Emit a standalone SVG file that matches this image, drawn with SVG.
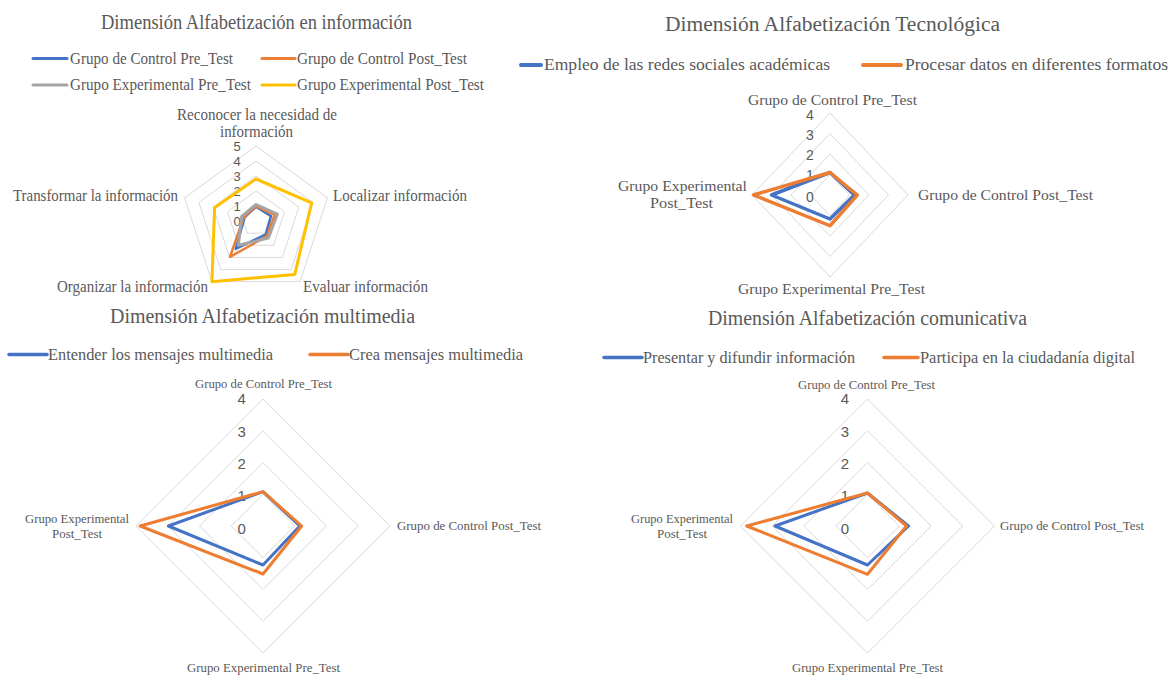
<svg xmlns="http://www.w3.org/2000/svg" width="1169" height="675" viewBox="0 0 1169 675">
<style>
text{fill:#595959;font-family:"Liberation Serif","Times New Roman",serif}
.serif{font-family:"Liberation Serif","Times New Roman",serif}
.title{font-size:20px}
.tick{font-family:"Liberation Sans",Arial,sans-serif;fill:#595959;text-anchor:middle}
.grid{fill:none;stroke:#d9d9d9;stroke-width:1}
.s{fill:none;stroke-linejoin:round;stroke-linecap:round}
.blue{stroke:#4472C4}
.orange{stroke:#ED7D31}
.gray{stroke:#A5A5A5}
.yellow{stroke:#FFC000}
</style>
<rect width="1169" height="675" fill="#ffffff"/>

<!-- Chart 1 -->
<g id="chart-informacion">
  <text class="title" x="101" y="29" textLength="311" lengthAdjust="spacingAndGlyphs">Dimensión Alfabetización en información</text>
  <g id="legend1" class="serif" style="font-size:16.5px">
    <line class="s blue" x1="33" y1="58.5" x2="67" y2="58.5" stroke-width="3"/>
    <text class="serif" x="70" y="63.5" textLength="163" lengthAdjust="spacingAndGlyphs">Grupo de Control Pre_Test</text>
    <line class="s orange" x1="262" y1="58.5" x2="295" y2="58.5" stroke-width="3"/>
    <text class="serif" x="297" y="63.5" textLength="170" lengthAdjust="spacingAndGlyphs">Grupo de Control Post_Test</text>
    <line class="s gray" x1="33" y1="85" x2="67" y2="85" stroke-width="3"/>
    <text class="serif" x="70" y="90" textLength="181" lengthAdjust="spacingAndGlyphs">Grupo Experimental Pre_Test</text>
    <line class="s yellow" x1="262" y1="85" x2="295" y2="85" stroke-width="3"/>
    <text class="serif" x="297" y="90" textLength="187" lengthAdjust="spacingAndGlyphs">Grupo Experimental Post_Test</text>
  </g>
  <g id="grid1">
    <polygon class="grid" points="256,206 270.27,216.36 264.82,233.14 247.18,233.14 241.73,216.36"/>
    <polygon class="grid" points="256,191 284.53,211.73 273.63,245.27 238.37,245.27 227.47,211.73"/>
    <polygon class="grid" points="256,176 298.8,207.09 282.45,257.41 229.55,257.41 213.2,207.09"/>
    <polygon class="grid" points="256,161 313.07,202.46 291.27,269.54 220.73,269.54 198.93,202.46"/>
    <polygon class="grid" points="256,146 327.33,197.82 300.08,281.68 211.92,281.68 184.67,197.82"/>
  </g>
  <g id="axis-labels1" class="serif" style="font-size:16px">
    <text class="serif" x="177" y="120" textLength="160" lengthAdjust="spacingAndGlyphs">Reconocer la necesidad de</text>
    <text class="serif" x="220" y="137" textLength="73" lengthAdjust="spacingAndGlyphs">información</text>
    <text class="serif" x="13" y="201" textLength="165" lengthAdjust="spacingAndGlyphs">Transformar la información</text>
    <text class="serif" x="333" y="201" textLength="134" lengthAdjust="spacingAndGlyphs">Localizar información</text>
    <text class="serif" x="57" y="292" textLength="151" lengthAdjust="spacingAndGlyphs">Organizar la información</text>
    <text class="serif" x="303" y="292" textLength="125" lengthAdjust="spacingAndGlyphs">Evaluar información</text>
  </g>
  <g id="ticks1" style="font-size:13px">
    <text class="tick" x="237" y="150.5">5</text>
    <text class="tick" x="237" y="165.5">4</text>
    <text class="tick" x="237" y="180.5">3</text>
    <text class="tick" x="237" y="195.5">2</text>
    <text class="tick" x="237" y="210.5">1</text>
    <text class="tick" x="237" y="225.5">0</text>
  </g>
  <g id="series1">
    <polygon class="s blue" stroke-width="2.5" points="256,206.75 270.98,216.13 265.7,234.35 235.72,248.91 244.59,217.29"/>
    <polygon class="s orange" stroke-width="2.5" points="256,206 274.55,214.97 267.02,236.17 229.99,256.8 243.87,217.06"/>
    <polygon class="s gray" stroke-width="3" points="256,204.5 277.4,214.05 268.34,237.99 238.37,245.27 241.73,216.36"/>
    <polygon class="s yellow" stroke-width="3" points="256,179 311.64,202.92 294.79,274.39 211.92,281.68 214.63,207.56"/>
  </g>
</g>

<!-- Chart 2 -->
<g id="chart-tecnologica">
  <text class="title" x="665" y="30.5" textLength="335" lengthAdjust="spacingAndGlyphs">Dimensión Alfabetización Tecnológica</text>
  <g id="legend2" class="serif" style="font-size:17px">
    <line class="s blue" x1="521" y1="65" x2="541" y2="65" stroke-width="4"/>
    <text class="serif" x="544" y="69.5" textLength="286" lengthAdjust="spacingAndGlyphs">Empleo de las redes sociales académicas</text>
    <line class="s orange" x1="863" y1="65" x2="901" y2="65" stroke-width="4"/>
    <text class="serif" x="905" y="69.5" textLength="263" lengthAdjust="spacingAndGlyphs">Procesar datos en diferentes formatos</text>
  </g>
  <g id="grid2">
    <polygon class="grid" points="830,174.5 849.5,195 830,215.5 810.5,195"/>
    <polygon class="grid" points="830,154 869,195 830,236 791,195"/>
    <polygon class="grid" points="830,133.5 888.5,195 830,256.5 771.5,195"/>
    <polygon class="grid" points="830,113 908,195 830,277 752,195"/>
  </g>
  <g id="axis-labels2" class="serif" style="font-size:15px">
    <text class="serif" x="748" y="104.5" textLength="169" lengthAdjust="spacingAndGlyphs">Grupo de Control Pre_Test</text>
    <text class="serif" x="918" y="200" textLength="175" lengthAdjust="spacingAndGlyphs">Grupo de Control Post_Test</text>
    <text class="serif" x="738" y="293.5" textLength="187" lengthAdjust="spacingAndGlyphs">Grupo Experimental Pre_Test</text>
    <text class="serif" x="618" y="191" textLength="129" lengthAdjust="spacingAndGlyphs">Grupo Experimental</text>
    <text class="serif" x="650" y="208" textLength="63" lengthAdjust="spacingAndGlyphs">Post_Test</text>
  </g>
  <g id="ticks2" style="font-size:14px">
    <text class="tick" x="810" y="120">4</text>
    <text class="tick" x="810" y="140">3</text>
    <text class="tick" x="810" y="160">2</text>
    <text class="tick" x="810" y="180">1</text>
    <text class="tick" x="810" y="201.5">0</text>
  </g>
  <g id="series2">
    <polygon class="s blue" stroke-width="3.5" points="830,172.5 854.4,195 830,219 771.5,195"/>
    <polygon class="s orange" stroke-width="3.5" points="830,172.5 857.3,195 830,225.75 753.5,195"/>
  </g>
</g>

<!-- Chart 3 -->
<g id="chart-multimedia">
  <text class="title" x="110" y="323" textLength="305" lengthAdjust="spacingAndGlyphs">Dimensión Alfabetización multimedia</text>
  <g id="legend3" class="serif" style="font-size:16px">
    <line class="s blue" x1="9" y1="354.5" x2="47" y2="354.5" stroke-width="3.5"/>
    <text class="serif" x="48" y="360" textLength="225" lengthAdjust="spacingAndGlyphs">Entender los mensajes multimedia</text>
    <line class="s orange" x1="310" y1="354.5" x2="348" y2="354.5" stroke-width="3.5"/>
    <text class="serif" x="349" y="360" textLength="174" lengthAdjust="spacingAndGlyphs">Crea mensajes multimedia</text>
  </g>
  <g id="grid3">
    <polygon class="grid" points="263,494.25 294.75,526 263,557.75 231.25,526"/>
    <polygon class="grid" points="263,462.5 326.5,526 263,589.5 199.5,526"/>
    <polygon class="grid" points="263,430.75 358.25,526 263,621.25 167.75,526"/>
    <polygon class="grid" points="263,399 390,526 263,653 136,526"/>
  </g>
  <g id="axis-labels3" class="serif" style="font-size:13px">
    <text class="serif" x="195" y="388" textLength="137" lengthAdjust="spacingAndGlyphs">Grupo de Control Pre_Test</text>
    <text class="serif" x="397" y="530" textLength="144" lengthAdjust="spacingAndGlyphs">Grupo de Control Post_Test</text>
    <text class="serif" x="187" y="671.5" textLength="153" lengthAdjust="spacingAndGlyphs">Grupo Experimental Pre_Test</text>
    <text class="serif" x="25" y="523" textLength="104" lengthAdjust="spacingAndGlyphs">Grupo Experimental</text>
    <text class="serif" x="52" y="538" textLength="50" lengthAdjust="spacingAndGlyphs">Post_Test</text>
  </g>
  <g id="ticks3" style="font-size:15px">
    <text class="tick" x="241.7" y="403.5">4</text>
    <text class="tick" x="241.7" y="437">3</text>
    <text class="tick" x="241.7" y="468.5">2</text>
    <text class="tick" x="241.7" y="500.5">1</text>
    <text class="tick" x="241.7" y="533.5">0</text>
  </g>
  <g id="series3">
    <polygon class="s blue" stroke-width="3" points="263,491.7 299.8,526 263,565 168.4,526"/>
    <polygon class="s orange" stroke-width="3" points="263,491.7 301.7,526 263,574 140.1,526"/>
  </g>
</g>

<!-- Chart 4 -->
<g id="chart-comunicativa">
  <text class="title" x="708" y="324.5" textLength="319" lengthAdjust="spacingAndGlyphs">Dimensión Alfabetización comunicativa</text>
  <g id="legend4" class="serif" style="font-size:16px">
    <line class="s blue" x1="604" y1="357.5" x2="642" y2="357.5" stroke-width="3.5"/>
    <text class="serif" x="643" y="362.5" textLength="212" lengthAdjust="spacingAndGlyphs">Presentar y difundir información</text>
    <line class="s orange" x1="884" y1="357.5" x2="918" y2="357.5" stroke-width="3.5"/>
    <text class="serif" x="920" y="362.5" textLength="215" lengthAdjust="spacingAndGlyphs">Participa en la ciudadanía digital</text>
  </g>
  <g id="grid4">
    <polygon class="grid" points="867.5,494.25 899.25,526 867.5,557.75 835.75,526"/>
    <polygon class="grid" points="867.5,462.5 931,526 867.5,589.5 804,526"/>
    <polygon class="grid" points="867.5,430.75 962.75,526 867.5,621.25 772.25,526"/>
    <polygon class="grid" points="867.5,399 994.5,526 867.5,653 740.5,526"/>
  </g>
  <g id="axis-labels4" class="serif" style="font-size:13px">
    <text class="serif" x="798" y="389" textLength="137" lengthAdjust="spacingAndGlyphs">Grupo de Control Pre_Test</text>
    <text class="serif" x="1000" y="530" textLength="144" lengthAdjust="spacingAndGlyphs">Grupo de Control Post_Test</text>
    <text class="serif" x="792" y="671.5" textLength="151" lengthAdjust="spacingAndGlyphs">Grupo Experimental Pre_Test</text>
    <text class="serif" x="631" y="523" textLength="102" lengthAdjust="spacingAndGlyphs">Grupo Experimental</text>
    <text class="serif" x="657" y="538" textLength="50" lengthAdjust="spacingAndGlyphs">Post_Test</text>
  </g>
  <g id="ticks4" style="font-size:15px">
    <text class="tick" x="845" y="404">4</text>
    <text class="tick" x="845" y="437">3</text>
    <text class="tick" x="845" y="468.5">2</text>
    <text class="tick" x="845" y="500.5">1</text>
    <text class="tick" x="845" y="533.5">0</text>
  </g>
  <g id="series4">
    <polygon class="s blue" stroke-width="3" points="867.5,493 908.5,526 867.5,565 775,526"/>
    <polygon class="s orange" stroke-width="3" points="867.5,493 906.5,526 867.5,574.3 746.7,526"/>
  </g>
</g>
</svg>
